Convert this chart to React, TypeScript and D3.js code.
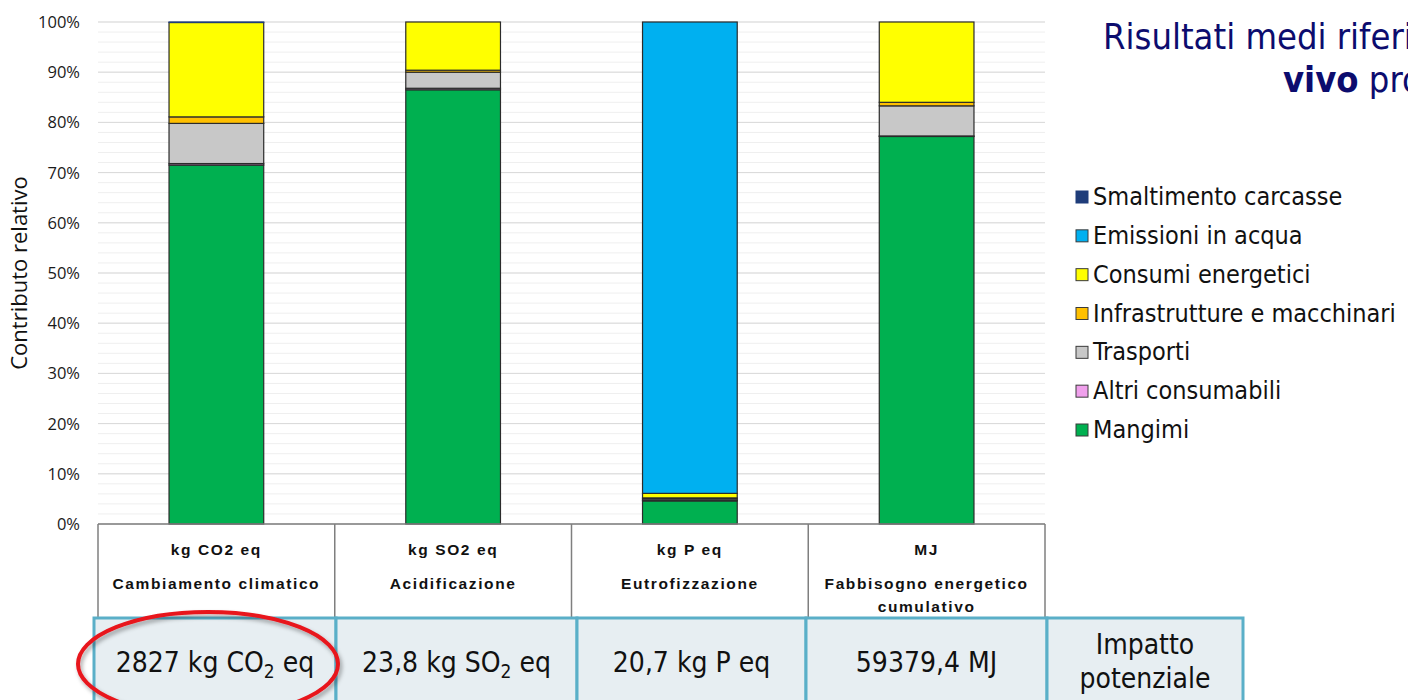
import React from 'react';
import * as d3 from 'd3';

// Impact categories (units and names shown in the header row under the bars)
const categories = ['CC', 'AC', 'EU', 'CED'];
const units = ['kg CO2 eq', 'kg SO2 eq', 'kg P eq', 'MJ'];
const categoryNames = [
  ['Cambiamento climatico'],
  ['Acidificazione'],
  ['Eutrofizzazione'],
  ['Fabbisogno energetico', 'cumulativo'],
];

// Relative contribution (%) of each process, per impact category
const mangimi = [71.5, 86.5, 4.6, 77.2];
const altriConsumabili = [0.3, 0.3, 0.1, 0.1];
const trasporti = [8.0, 3.2, 0.3, 6.0];
const infrastrutture = [1.3, 0.4, 0.2, 0.7];
const consumiEnergetici = [18.8, 9.6, 0.9, 16.0];
const emissioniAcqua = [0, 0, 93.9, 0];
const smaltimentoCarcasse = [0.1, 0, 0, 0];

const seriesNames = [
  'Mangimi',
  'Altri consumabili',
  'Trasporti',
  'Infrastrutture e macchinari',
  'Consumi energetici',
  'Emissioni in acqua',
  'Smaltimento carcasse',
];
const seriesValues = [
  mangimi,
  altriConsumabili,
  trasporti,
  infrastrutture,
  consumiEnergetici,
  emissioniAcqua,
  smaltimentoCarcasse,
];
const seriesColors = ['#00b050', '#f0a0ec', '#c8c8c8', '#ffc000', '#ffff00', '#00b0f0', '#1f3d7a'];

const yTicks = [0, 10, 20, 30, 40, 50, 60, 70, 80, 90, 100];
const yMinorTicks = d3.range(0, 101, 2);

// Potential impact totals (text parts: before subscript, subscript, after)
const impactTotals: [string, string, string][] = [
  ['2827 kg CO', '2', ' eq'],
  ['23,8 kg SO', '2', ' eq'],
  ['20,7 kg P eq', '', ''],
  ['59379,4 MJ', '', ''],
];
const impactLabel = ['Impatto', 'potenziale'];

const W = 1408;
const H = 700;
const plot = { left: 98, right: 1045, top: 22, bottom: 524 };

const tahoma = '"DejaVu Sans Condensed", "DejaVu Sans", sans-serif';
const calibri = '"Open Sans", "Noto Sans", sans-serif';
const arial = '"Liberation Sans", Arial, sans-serif';

export default function App() {
  const x = d3
    .scaleBand<string>()
    .domain(categories)
    .range([plot.left, plot.right])
    .paddingInner(0.6)
    .paddingOuter(0.3);
  const col = d3.scaleBand<string>().domain(categories).range([plot.left, plot.right]);
  const y = d3.scaleLinear().domain([0, 100]).range([plot.bottom, plot.top]);

  const rows = categories.map((c, i) => {
    const r: Record<string, any> = { cat: c };
    seriesNames.forEach((s, j) => (r[s] = seriesValues[j][i]));
    return r;
  });
  const stacked = d3.stack<Record<string, any>>().keys(seriesNames)(rows);
  const color = d3.scaleOrdinal<string, string>().domain(seriesNames).range(seriesColors);

  // bottom table column edges
  const tableCols = [94, 336, 577, 806, 1047, 1243];
  const tableTop = 618;

  const legendNames = [...seriesNames].reverse();
  const legendY = d3.scalePoint<string>().domain(legendNames).range([197, 430]);

  return (
    <svg
      width={W}
      height={H}
      viewBox={`0 0 ${W} ${H}`}
      style={{ position: 'absolute', left: 0, top: 0, background: '#fff' }}
    >
      <defs>
        <filter id="ellShadow" x="-20%" y="-30%" width="140%" height="160%">
          <feDropShadow dx="2" dy="3" stdDeviation="2" floodColor="#000" floodOpacity="0.35" />
        </filter>
      </defs>

      {/* gridlines */}
      {yMinorTicks.map((t) => (
        <line key={'m' + t} x1={plot.left} x2={plot.right} y1={y(t)} y2={y(t)} stroke="#efefef" strokeWidth={1} />
      ))}
      {yTicks.map((t) => (
        <line key={'g' + t} x1={plot.left} x2={plot.right} y1={y(t)} y2={y(t)} stroke="#d9d9d9" strokeWidth={1} />
      ))}

      {/* y tick labels */}
      {yTicks.map((t) => (
        <text
          key={'t' + t}
          x={80}
          y={y(t) + 6}
          textAnchor="end"
          fontFamily={calibri}
          fontSize={16.5}
          fill="#1a1a1a"
        >
          {t}%
        </text>
      ))}
      <text
        transform={`translate(27,${(plot.top + plot.bottom) / 2}) rotate(-90)`}
        textAnchor="middle"
        fontFamily={calibri}
        fontSize={22}
        fill="#111"
      >
        Contributo relativo
      </text>

      {/* stacked bars */}
      {stacked.map((layer) => (
        <g key={layer.key} fill={color(layer.key)}>
          {layer.map((d) =>
            d[1] - d[0] > 0 ? (
              <rect
                key={d.data.cat}
                x={x(d.data.cat)!}
                width={x.bandwidth()}
                y={y(d[1])}
                height={y(d[0]) - y(d[1])}
                stroke={layer.key === 'Smaltimento carcasse' ? '#1f3d7a' : '#2b2b2b'}
                strokeWidth={1.2}
              />
            ) : null
          )}
        </g>
      ))}

      {/* header table (units and category names) */}
      <line x1={plot.left} x2={plot.right} y1={plot.bottom} y2={plot.bottom} stroke="#7f7f7f" strokeWidth={1.5} />
      {categories.map((c) => (
        <line key={'v' + c} x1={col(c)!} x2={col(c)!} y1={plot.bottom} y2={tableTop} stroke="#7f7f7f" strokeWidth={1.5} />
      ))}
      <line x1={plot.right} x2={plot.right} y1={plot.bottom} y2={tableTop} stroke="#7f7f7f" strokeWidth={1.5} />
      {categories.map((c, i) => {
        const cx = col(c)! + col.bandwidth() / 2;
        return (
          <g key={'h' + c} fontFamily={arial} fontWeight="bold" fontSize={15.5} fill="#111" textAnchor="middle" letterSpacing={1.6}>
            <text x={cx} y={555}>{units[i]}</text>
            {categoryNames[i].map((ln, k) => (
              <text key={k} x={cx} y={589 + k * 23}>{ln}</text>
            ))}
          </g>
        );
      })}

      {/* potential impact row */}
      {tableCols.slice(0, -1).map((x0, i) => (
        <rect
          key={'c' + i}
          x={x0}
          y={tableTop}
          width={tableCols[i + 1] - x0}
          height={H - tableTop + 10}
          fill="#e7eef2"
          stroke="#5aafc8"
          strokeWidth={3}
        />
      ))}
      {impactTotals.map((parts, i) => {
        const cx = (tableCols[i] + tableCols[i + 1]) / 2;
        return (
          <text key={'v' + i} x={cx} y={672} textAnchor="middle" fontFamily={tahoma} fontSize={28} fill="#111">
            {parts[0]}
            {parts[1] ? (
              <tspan fontSize={19} dy={6}>{parts[1]}</tspan>
            ) : null}
            {parts[2] ? <tspan dy={parts[1] ? -6 : 0}>{parts[2]}</tspan> : null}
          </text>
        );
      })}
      {impactLabel.map((ln, k) => (
        <text
          key={'il' + k}
          x={(tableCols[4] + tableCols[5]) / 2}
          y={654 + k * 34}
          textAnchor="middle"
          fontFamily={tahoma}
          fontSize={28}
          fill="#111"
        >
          {ln}
        </text>
      ))}

      {/* highlight around the climate change total */}
      <ellipse cx={208} cy={664} rx={130} ry={52} fill="none" stroke="#e8141c" strokeWidth={4} filter="url(#ellShadow)" />

      {/* legend */}
      {legendNames.map((s) => {
        const cy = legendY(s)!;
        return (
          <g key={'l' + s}>
            <rect
              x={1076}
              y={cy - 6}
              width={12}
              height={12}
              fill={color(s)}
              stroke={s === 'Smaltimento carcasse' ? color(s) : '#3a3a3a'}
              strokeWidth={1}
            />
            <text x={1093} y={cy + 8} fontFamily={tahoma} fontSize={25} fill="#111">
              {s}
            </text>
          </g>
        );
      })}

      {/* title */}
      <text x={1103} y={49} fontFamily={tahoma} fontSize={36} fill="#0c0c6e">
        Risultati medi riferiti a 1000 kg di peso
      </text>
      <text x={1283} y={92} fontFamily={tahoma} fontSize={36} fill="#0c0c6e">
        <tspan fontWeight="bold">vivo</tspan> prodotto
      </text>
    </svg>
  );
}
